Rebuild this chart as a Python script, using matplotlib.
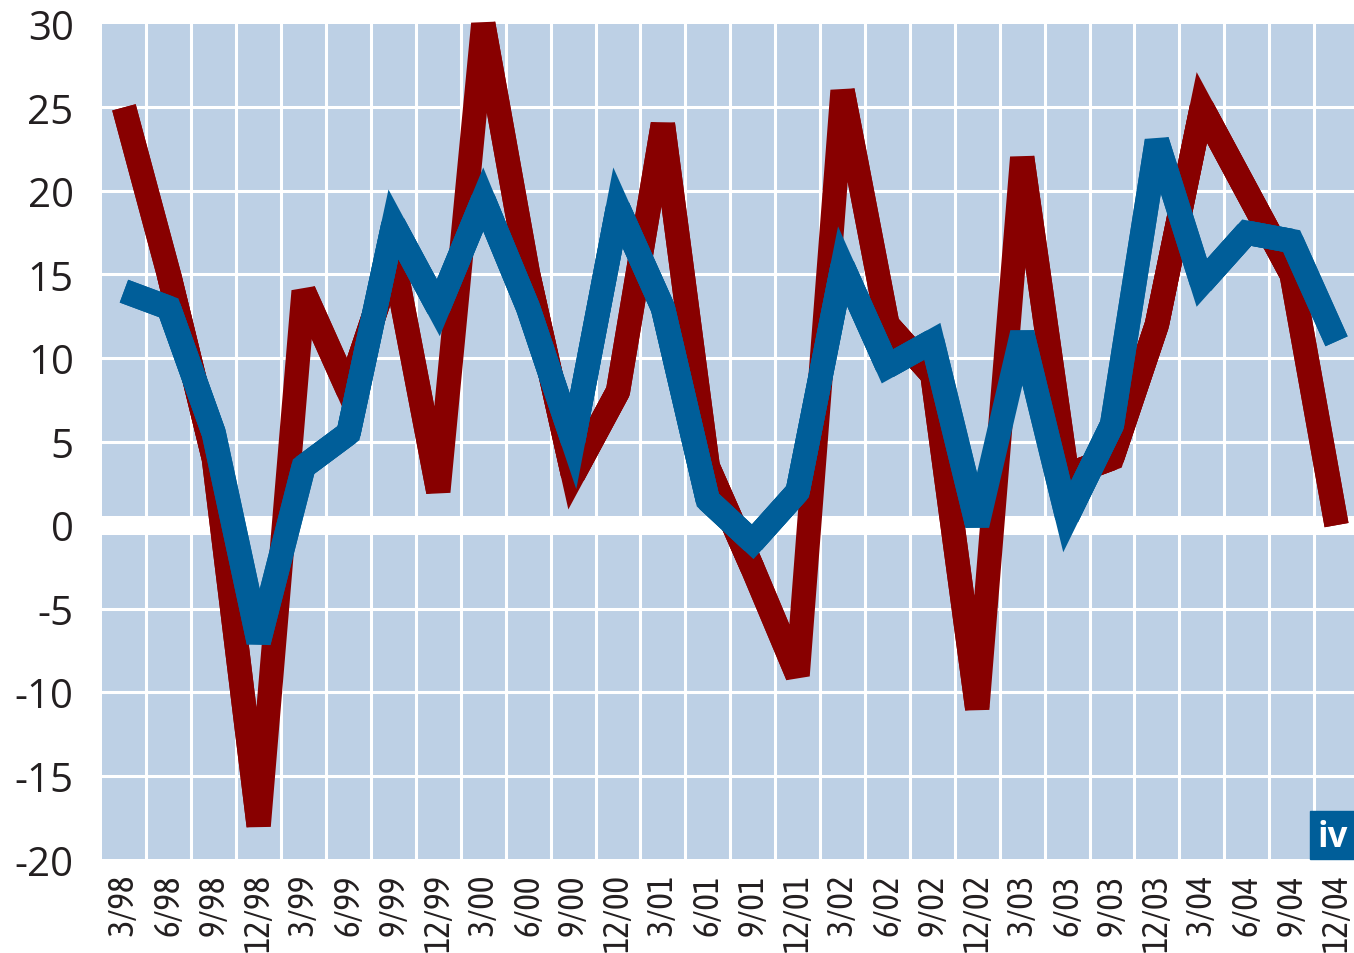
import matplotlib
matplotlib.use("Agg")
import matplotlib.pyplot as plt
from matplotlib.patches import Rectangle
from matplotlib import font_manager
from matplotlib.textpath import TextPath
from matplotlib.font_manager import FontProperties
import numpy as np

# quarterly values
quarters = ["3/98", "6/98", "9/98", "12/98", "3/99", "6/99", "9/99", "12/99",
            "3/00", "6/00", "9/00", "12/00", "3/01", "6/01", "9/01", "12/01",
            "3/02", "6/02", "9/02", "12/02", "3/03", "6/03", "9/03", "12/03",
            "3/04", "6/04", "9/04", "12/04"]
red_values = [25, 15, 4, -18, 14, 8, 16, 2,
              30, 15, 3, 8, 24, 3.5, -2.6, -9,
              26, 12, 9, -11, 22, 3, 4, 12,
              25, 20, 15, 0]
blue_values = [14, 13, 5.5, -7, 3.5, 5.5, 18, 13,
               19.5, 13, 5, 19, 13, 1.5, -1, 2,
               15.5, 9.5, 11, 0, 11.5, 0.5, 6, 23,
               14.5, 17.5, 17, 11]
y_ticks = [-20, -15, -10, -5, 0, 5, 10, 15, 20, 25, 30]

RED = "#880000"
BLUE = "#005E99"
BG = "#BDD0E5"
TEXT = "#231F20"
LW = 17.5

plt.rcParams["font.family"] = ["Open Sans", "DejaVu Sans"]

# the quarter labels are set in a narrow face; use one if installed
installed = {f.name for f in font_manager.fontManager.ttflist}
narrow = next((f for f in ["Asap Condensed", "Barlow Semi Condensed",
                           "Archivo Narrow", "Liberation Sans Narrow"]
               if f in installed), "Open Sans")
# size so that the longest label is about 75 px long
w_pt = TextPath((0, 0), "12/98", size=10,
                prop=FontProperties(family=narrow, weight="normal")).get_extents().width
x_label_size = min(30, 10 * 75 / (w_pt * 100 / 72))

W, H = 1354, 954
fig = plt.figure(figsize=(W / 100, H / 100), dpi=100)
ax = fig.add_axes([101.5 / W, (H - 860.3) / H, (1359 - 101.5) / W, (860.3 - 24.8) / H])
ax.set_facecolor(BG)
ax.set_xlim(-0.5, len(quarters) - 0.5)
ax.set_ylim(-20, 30)
for s in ax.spines.values():
    s.set_visible(False)

# white grid, thick zero line
for k in range(len(quarters)):
    ax.axvline(k + 0.5, color="white", lw=2.2, zorder=1)
for v in y_ticks[1:-1]:
    ax.axhline(v, color="white", lw=13.7 if v == 0 else 2.2, zorder=1)

x = np.arange(len(quarters))


def miter_ok(vals, i, limit=4.0):
    # miter only where the spike stays short, bevel elsewhere
    p = ax.transData.transform(np.column_stack([x[i - 1:i + 2], vals[i - 1:i + 2]]))
    a = p[0] - p[1]
    b = p[2] - p[1]
    c = np.dot(a, b) / (np.linalg.norm(a) * np.linalg.norm(b))
    theta = np.arccos(np.clip(c, -1, 1))
    return 1 / np.sin(theta / 2) <= limit


def draw(vals, color, z):
    vals = np.array(vals, dtype=float)
    ax.plot(x, vals, color=color, lw=LW, solid_joinstyle="bevel",
            solid_capstyle="butt", clip_on=False, zorder=z)
    for i in range(1, len(vals) - 1):
        if miter_ok(vals, i):
            ax.plot(x[i - 1:i + 2], vals[i - 1:i + 2], color=color, lw=LW,
                    solid_joinstyle="miter", solid_capstyle="butt",
                    clip_on=False, zorder=z)


draw(red_values, RED, 3)
draw(blue_values, BLUE, 4)

ax.set_xticks(x, quarters, rotation=90, family=[narrow, "DejaVu Sans"],
              fontweight="normal")
ax.set_yticks(y_ticks, [str(v) for v in y_ticks])
ax.tick_params(axis="x", length=0, pad=10, labelsize=x_label_size, labelcolor=TEXT)
ax.tick_params(axis="y", length=0, pad=20, labelsize=29, labelcolor=TEXT)

# "iv" logo box
fig.add_artist(Rectangle((1310 / W, (H - 860.3) / H), 50 / W, 48 / H,
                         transform=fig.transFigure, color=BLUE, zorder=5))
fig.text(1333 / W, (H - 838) / H, "iv", color="white", fontsize=25,
         fontweight="bold", ha="center", va="center", zorder=6)

fig.savefig("out.png", dpi=100)
